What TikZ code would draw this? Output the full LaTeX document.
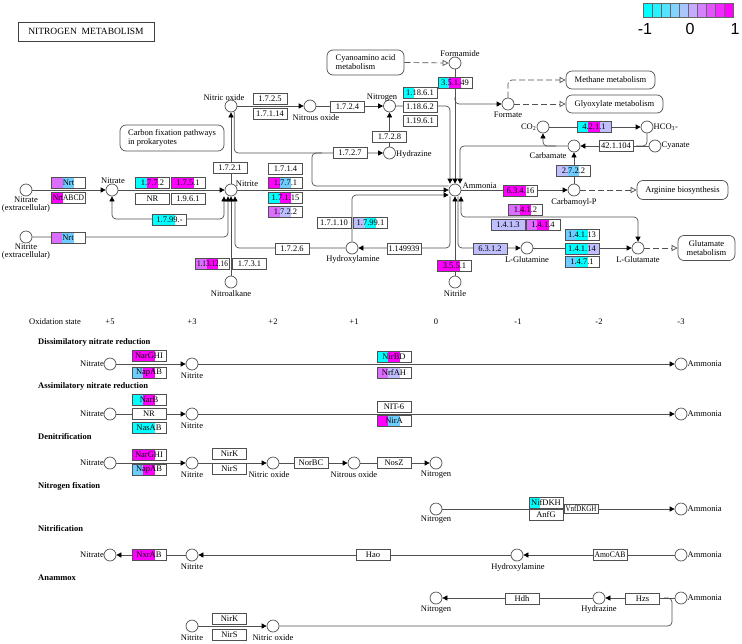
\documentclass[tikz,border=0pt]{standalone}
\usepackage{fontspec}
\usepackage{graphicx}
\setmainfont{Liberation Serif}
\newfontfamily\legfont{Liberation Sans}
\usetikzlibrary{arrows.meta,calc}
\pgfdeclarelayer{bg}
\pgfsetlayers{bg,main}
\definecolor{kc}{RGB}{0,255,255}
\definecolor{km}{RGB}{255,0,255}
\definecolor{kl}{RGB}{191,191,255}
\definecolor{kb}{RGB}{110,205,255}
\definecolor{kp}{RGB}{220,110,255}
\definecolor{lnc}{RGB}{80,80,80}
\newsavebox\fbx
\newcommand\fitt[1]{\sbox\fbx{#1}\ifdim\wd\fbx>31pt\resizebox{31pt}{\height}{#1}\else\usebox\fbx\fi}
\begin{document}
\begin{tikzpicture}[x=1pt,y=-1pt,
 cpd/.style={circle,draw=lnc,fill=white,line width=0.7pt,minimum size=12pt,inner sep=0pt},
 lbl/.style={font=\fontsize{8.5}{8.5}\selectfont,inner sep=0pt,align=center},
 hd/.style={font=\fontsize{8.5}{9}\selectfont\bfseries,inner sep=0pt,anchor=west},
 enz/.style={draw=lnc,fill=white,line width=0.7pt,minimum width=34pt,minimum height=11pt,inner sep=0pt,font=\fontsize{8.5}{9}\selectfont},
 ccc/.style n args={3}{path picture={
   \fill[#1] (path picture bounding box.south west) rectangle ++(11.33pt,14pt);
   \fill[#2] ([xshift=11.33pt]path picture bounding box.south west) rectangle ++(11.34pt,14pt);
   \fill[#3] ([xshift=22.67pt]path picture bounding box.south west) rectangle ++(11.34pt,14pt);}},
 pbox/.style={draw=lnc,fill=white,line width=0.7pt,rounded corners=6pt,inner sep=0pt,align=center,font=\fontsize{8.5}{9}\selectfont},
 ln0/.style={draw=lnc,line width=0.7pt},
 arr/.style={ln0,-{Triangle[length=5pt,width=5pt,color=black]}},
 arrb/.style={ln0,{Triangle[length=5pt,width=5pt,color=black]}-{Triangle[length=5pt,width=5pt,color=black]}},
 dsh/.style={ln0,dash pattern=on 6pt off 3pt,-{Triangle[open,length=6pt,width=6pt]}},
 rc/.style={rounded corners=4pt}]
\useasboundingbox (0,0) rectangle (742,643);

% title and legend
\node[draw=black!75,line width=1pt,minimum width=136pt,minimum height=19pt,inner sep=0pt,font=\fontsize{9.5}{10}\selectfont] (title) at (86,31.5) {NITROGEN\ \ METABOLISM};
\foreach \i/\c in {0/kc,1/kl!22!kc,2/kl!44!kc,3/kl!67!kc,4/kl!89!kc,5/km!11!kl,6/km!33!kl,7/km!56!kl,8/km!78!kl,9/km}
  \node[draw=black!60,fill=\c,minimum width=9pt,minimum height=14pt,inner sep=0pt,line width=0.4pt] (leg\i) at ({647.5+9*\i},10) {};
\node[font=\legfont\fontsize{16}{16}\selectfont,inner sep=0pt] (legm) at (645,29) {-1};
\node[font=\legfont\fontsize{16}{16}\selectfont,inner sep=0pt] (legz) at (690,29) {0};
\node[font=\legfont\fontsize{16}{16}\selectfont,inner sep=0pt] (legp) at (735,29) {1};

% pathway boxes
\node[pbox,minimum width=77pt,minimum height=25pt,align=left] (cyano) at (365.5,62.5) {Cyanoamino acid\\metabolism};
\node[pbox,minimum width=104pt,minimum height=26pt,align=left] (carbfix) at (172,138) {Carbon fixation pathways\\in prokaryotes};
\node[pbox,minimum width=89pt,minimum height=18pt] (methane) at (610.5,80) {Methane metabolism};
\node[pbox,minimum width=97pt,minimum height=18pt] (glyox) at (614.5,104) {Glyoxylate metabolism};
\node[pbox,minimum width=91pt,minimum height=19pt] (arginine) at (682.5,190) {Arginine biosynthesis};
\node[pbox,minimum width=57pt,minimum height=25pt] (glumet) at (706.5,248) {Glutamate\\metabolism};

% compounds top
\node[cpd] (formamide) at (455,63) {};
\node[cpd] (no) at (231,106) {};
\node[cpd] (n2o) at (310,106) {};
\node[cpd] (n2) at (389.5,106) {};
\node[cpd] (formate) at (508,104) {};
\node[cpd] (co2) at (543,127) {};
\node[cpd] (hco3) at (647,127) {};
\node[cpd] (carbamate) at (574,146) {};
\node[cpd] (cyanate) at (655,146) {};
\node[cpd] (hydrazine) at (389.5,153) {};
\node[cpd] (nitrite) at (231,190) {};
\node[cpd] (nitrateE) at (26,190) {};
\node[cpd] (nitrate) at (112,190) {};
\node[cpd] (ammonia) at (455,190) {};
\node[cpd] (carbp) at (574,190) {};
\node[cpd] (nitriteE) at (26,237) {};
\node[cpd] (hydroxyl) at (352,248) {};
\node[cpd] (lgln) at (527,248) {};
\node[cpd] (lglu) at (638,248) {};
\node[cpd] (nitroalk) at (231,282) {};
\node[cpd] (nitrile) at (455,282) {};

% labels top
\node[lbl] (lformamide) at (460,54) {Formamide};
\node[lbl] (lno) at (224,97.5) {Nitric oxide};
\node[lbl] (ln2o) at (316,118) {Nitrous oxide};
\node[lbl] (ln2) at (382,97.5) {Nitrogen};
\node[lbl] (lformate) at (508,114.5) {Formate};
\node[lbl,anchor=east] (lco2) at (536.5,127) {CO\textsubscript{2}};
\node[lbl,anchor=west] (lhco3) at (653.5,127) {HCO\textsubscript{3}-};
\node[lbl] (lcarbamate) at (548,155.5) {Carbamate};
\node[lbl,anchor=west] (lcyanate) at (661.5,146) {Cyanate};
\node[lbl,anchor=west] (lhydrazine) at (396,154.5) {Hydrazine};
\node[lbl] (lnitrite) at (247,184) {Nitrite};
\node[lbl] (lnitrate) at (113,181) {Nitrate};
\node[lbl] (lnitrateE) at (26,204.5) {Nitrate\\(extracellular)};
\node[lbl] (lnitriteE) at (26,251.5) {Nitrite\\(extracellular)};
\node[lbl,anchor=south west] (lammonia) at (462.5,188.5) {Ammonia};
\node[lbl] (lcarbp) at (574,202.5) {Carbamoyl-P};
\node[lbl] (lhydroxyl) at (353,259.5) {Hydroxylamine};
\node[lbl] (llgln) at (527,259.5) {L-Glutamine};
\node[lbl] (llglu) at (638,259.5) {L-Glutamate};
\node[lbl] (lnitroalk) at (231,293.5) {Nitroalkane};
\node[lbl] (lnitrile) at (455,293.5) {Nitrile};

% enzymes top
\node[enz] (e17225) at (270,98.5) {\fitt{1.7.2.5}};
\node[enz] (e17114) at (270,113.5) {\fitt{1.7.1.14}};
\node[enz] (e1724) at (347.5,106.5) {\fitt{1.7.2.4}};
\node[enz,ccc={kc}{white}{white}] (e118661) at (420,92.5) {\fitt{1.18.6.1}};
\node[enz] (e118662) at (420,106.5) {\fitt{1.18.6.2}};
\node[enz] (e11961) at (420,120.5) {\fitt{1.19.6.1}};
\node[enz] (e1728) at (389.5,136.5) {\fitt{1.7.2.8}};
\node[enz] (e1727) at (350,153) {\fitt{1.7.2.7}};
\node[enz,ccc={kc}{km}{white}] (e35149) at (455,82.5) {\fitt{3.5.1.49}};
\node[enz,ccc={kc}{km}{kl}] (e4211) at (594,127) {\fitt{4.2.1.1}};
\node[enz] (e421104) at (616,146) {\fitt{42.1.104}};
\node[enz] (e1721) at (230,168) {\fitt{1.7.2.1}};
\node[enz,ccc={kp}{kb}{white}] (nrt1) at (68.5,182.5) {\fitt{Nrt}};
\node[enz,ccc={km}{white}{white}] (nrtabcd) at (68.5,197.5) {\fitt{NrtABCD}};
\node[enz,ccc={kc}{km}{white}] (e1772) at (152.5,182.5) {\fitt{1.7.7.2}};
\node[enz,ccc={km}{km}{white}] (e1751) at (188,182.5) {\fitt{1.7.5.1}};
\node[enz] (nr) at (152.5,198.5) {\fitt{NR}};
\node[enz] (e1961) at (188,198.5) {\fitt{1.9.6.1}};
\node[enz,ccc={kc}{kc}{white}] (e1799) at (169.5,219.5) {\fitt{1.7.99.-}};
\node[enz,ccc={kp}{kb}{white}] (nrt2) at (68,237.5) {\fitt{Nrt}};
\node[enz,ccc={kp}{km}{white}] (e1131216) at (212.5,263.5) {\fitt{1.13.12.16}};
\node[enz] (e1731) at (249.5,263.5) {\fitt{1.7.3.1}};
\node[enz] (e1714) at (285.5,168.5) {\fitt{1.7.1.4}};
\node[enz,ccc={km}{kb}{white}] (e1771) at (285.5,182.5) {\fitt{1.7.7.1}};
\node[enz,ccc={kc}{km}{white}] (e17115) at (285.5,197.5) {\fitt{1.7.1.15}};
\node[enz,ccc={kp}{kl}{white}] (e1722) at (285.5,211.5) {\fitt{1.7.2.2}};
\node[enz] (e17110) at (334,223) {\fitt{1.7.1.10}};
\node[enz,ccc={kl}{kc}{white}] (e17991) at (370.5,223) {\fitt{1.7.99.1}};
\node[enz] (e1726) at (292,249) {\fitt{1.7.2.6}};
\node[enz] (e1149939) at (404,249) {\fitt{1.149939}};
\node[enz,ccc={km}{km}{white}] (e3551) at (454.5,265.5) {\fitt{3.5.5.1}};
\node[enz,ccc={km}{km}{white}] (e63416) at (520.5,190.5) {\fitt{6.3.4.16}};
\node[enz,ccc={kl}{kb}{white}] (e2722) at (573.5,171) {\fitt{2.7.2.2}};
\node[enz,ccc={kp}{km}{white}] (e1412) at (525.5,210) {\fitt{1.4.1.2}};
\node[enz,ccc={kl}{kl}{kl}] (e1413) at (508,225) {\fitt{1.4.1.3}};
\node[enz,ccc={kp}{km}{white}] (e1414) at (543,225) {\fitt{1.4.1.4}};
\node[enz,ccc={kl}{kl}{kl}] (e6312) at (490,248.5) {\fitt{6.3.1.2}};
\node[enz,ccc={kb}{kc}{white}] (e14113) at (582,235) {\fitt{1.4.1.13}};
\node[enz,ccc={kc}{kc}{kl}] (e14114) at (582,248.5) {\fitt{1.4.1.14}};
\node[enz,ccc={kb}{kc}{white}] (e1471) at (582,262) {\fitt{1.4.7.1}};

% connectors top
\coordinate (jf) at (455,97);
\coordinate (jcb) at (556,146);
\coordinate (jh) at (636,146);
\begin{pgfonlayer}{bg}
\draw[dsh] (cyano.east) -- (formamide.west);
\draw[dsh,rc] (formate.north) |- (methane.west);
\draw[dsh] (formate.east) -- (glyox.west);
\draw[dsh] (carbp.east) -- (arginine.west);
\draw[dsh] (lglu.east) -- (glumet.west);
\draw[arr] (no.east) -- (n2o.west);
\draw[arr] (n2o.east) -- (n2.west);
\draw[arr,rc] (n2.east) -| ([xshift=-5pt]ammonia.north);
\draw[arr] (formamide.south) -- (ammonia.north);
\draw[arr,rc] (jf) |- (formate.west);
\draw[arr,rc] (no.-60) |- (hydrazine.west);
\draw[ln0,rc] ([yshift=4pt]ammonia.west) -- (312,186) -- (312,153) -- (322,153);
\draw[arr] (hydrazine.north) -- (n2.south);
\draw[arr] (co2.east) -- (hco3.west);
\draw[arr] (cyanate.west) -- (carbamate.east);
\draw[ln0,rc] (jh) -| (hco3.south);
\draw[arr,rc] (carbamate.west) -| ([xshift=5pt]ammonia.north);
\draw[arr,rc] (jcb) -| (co2.south);
\draw[arr] (carbp.north) -- (carbamate.south);
\draw[arr] (ammonia.east) -- (carbp.west);
\draw[arr] (nitrateE.east) -- (nitrate.west);
\draw[arr] (nitrate.east) -- (nitrite.west);
\draw[arr] (nitrite.north) -- (no.south);
\draw[arr] (nitrite.east) -- (ammonia.west);
\draw[arrb,rc] (nitrate.south) -- (112,219) -- (224,219) -- ([xshift=-7pt]nitrite.south);
\draw[arr,rc] (nitriteE.east) -- (228,237) -- ([xshift=-3pt]nitrite.south);
\draw[arr] (nitroalk.north) -- (nitrite.south);
\draw[arr,rc] (hydroxyl.west) -- (235,248) -- ([xshift=4pt]nitrite.south);
\draw[arr,rc] (hydroxyl.north) |- ([yshift=-5pt]ammonia.west);
\draw[arr,rc] ([xshift=-5pt]ammonia.south) |- (hydroxyl.east);
\draw[arr] (nitrile.north) -- (ammonia.south);
\draw[arr,rc] ([xshift=3pt]ammonia.south) |- (lgln.west);
\draw[arrb,rc] ([xshift=6pt]ammonia.south) -- (461,217) -- (638,217) -- (lglu.north);
\draw[arr] (lgln.east) -- (lglu.west);
\end{pgfonlayer}

% ===== lower section =====
\node[lbl] (ox) at (55,322) {Oxidation state};
\node[lbl] (ox5) at (110,322) {+5};
\node[lbl] (ox3) at (192,322) {+3};
\node[lbl] (ox2) at (273,322) {+2};
\node[lbl] (ox1) at (354,322) {+1};
\node[lbl] (ox0) at (436,322) {0};
\node[lbl] (oxm1) at (518,322) {-1};
\node[lbl] (oxm2) at (599,322) {-2};
\node[lbl] (oxm3) at (681,322) {-3};

\node[hd] (h1) at (38,342) {Dissimilatory nitrate reduction};
\node[hd] (h2) at (38,386) {Assimilatory nitrate reduction};
\node[hd] (h3) at (38,437) {Denitrification};
\node[hd] (h4) at (38,486) {Nitrogen fixation};
\node[hd] (h5) at (38,529) {Nitrification};
\node[hd] (h6) at (38,578) {Anammox};

% row 1
\node[cpd] (r1a) at (110,364) {};
\node[cpd] (r1b) at (192,364) {};
\node[cpd] (r1c) at (681,364) {};
\node[lbl,anchor=east] (l1a) at (104,364) {Nitrate};
\node[lbl] (l1b) at (192,375.5) {Nitrite};
\node[lbl,anchor=west] (l1c) at (687.5,364) {Ammonia};
\node[enz,ccc={km}{km}{white}] (r1e1) at (149,356) {\fitt{NarGHI}};
\node[enz,ccc={kb}{km}{white}] (r1e2) at (149,372.5) {\fitt{NapAB}};
\node[enz,ccc={kc}{km}{white}] (r1e3) at (394,356.5) {\fitt{NirBD}};
\node[enz,ccc={kp}{kl}{white}] (r1e4) at (394,373) {\fitt{NrfAH}};
% row 2
\node[cpd] (r2a) at (110,414) {};
\node[cpd] (r2b) at (192,414) {};
\node[cpd] (r2c) at (681,414) {};
\node[lbl,anchor=east] (l2a) at (104,414) {Nitrate};
\node[lbl] (l2b) at (192,425.5) {Nitrite};
\node[lbl,anchor=west] (l2c) at (687.5,414) {Ammonia};
\node[enz,ccc={kc}{km}{white}] (r2e1) at (149,400) {\fitt{NarB}};
\node[enz] (r2e2) at (149,413.5) {\fitt{NR}};
\node[enz,ccc={kc}{kc}{white}] (r2e3) at (149,427.5) {\fitt{NasAB}};
\node[enz] (r2e4) at (394,407) {\fitt{NIT-6}};
\node[enz,ccc={km}{kb}{white}] (r2e5) at (394,421) {\fitt{NirA}};
% row 3
\node[cpd] (r3a) at (110,463) {};
\node[cpd] (r3b) at (192,463) {};
\node[cpd] (r3c) at (273,463) {};
\node[cpd] (r3d) at (354,463) {};
\node[cpd] (r3e) at (436,463) {};
\node[lbl,anchor=east] (l3a) at (104,463) {Nitrate};
\node[lbl] (l3b) at (192,474.5) {Nitrite};
\node[lbl] (l3c) at (269,474.5) {Nitric oxide};
\node[lbl] (l3d) at (354,474.5) {Nitrous oxide};
\node[lbl] (l3e) at (436,474.5) {Nitrogen};
\node[enz,ccc={km}{km}{white}] (r3e1) at (149,454.5) {\fitt{NarGHI}};
\node[enz,ccc={kb}{km}{white}] (r3e2) at (149,470) {\fitt{NapAB}};
\node[enz] (r3e3) at (229.5,454) {\fitt{NirK}};
\node[enz] (r3e4) at (229.5,469) {\fitt{NirS}};
\node[enz] (r3e5) at (311,463) {\fitt{NorBC}};
\node[enz] (r3e6) at (394,463) {\fitt{NosZ}};
% row 4
\node[cpd] (r4a) at (436,509) {};
\node[cpd] (r4b) at (681,509) {};
\node[lbl] (l4a) at (436,520) {Nitrogen};
\node[lbl,anchor=west] (l4b) at (687.5,509) {Ammonia};
\node[enz,ccc={kc}{white}{white}] (r4e1) at (546,502.5) {\fitt{NifDKH}};
\node[enz] (r4e2) at (546,514.5) {\fitt{AnfG}};
\node[enz,minimum height=9pt] (r4e3) at (581,508.5) {\fitt{VnfDKGH}};
% row 5
\node[cpd] (r5a) at (110,555) {};
\node[cpd] (r5b) at (192,555) {};
\node[cpd] (r5c) at (517,555) {};
\node[cpd] (r5d) at (681,555) {};
\node[lbl,anchor=east] (l5a) at (104,555) {Nitrate};
\node[lbl] (l5b) at (192,566.5) {Nitrite};
\node[lbl] (l5c) at (518,567) {Hydroxylamine};
\node[lbl,anchor=west] (l5d) at (687.5,555) {Ammonia};
\node[enz,ccc={km}{km}{white}] (r5e1) at (149,555) {\fitt{NxrAB}};
\node[enz] (r5e2) at (373,555) {\fitt{Hao}};
\node[enz] (r5e3) at (610,554.5) {\fitt{AmoCAB}};
% row 6
\node[cpd] (r6a) at (436,598) {};
\node[cpd] (r6b) at (599,598) {};
\node[cpd] (r6c) at (681,598) {};
\node[lbl] (l6a) at (436,609.5) {Nitrogen};
\node[lbl] (l6b) at (599,609.5) {Hydrazine};
\node[lbl,anchor=west] (l6c) at (687.5,598) {Ammonia};
\node[enz] (r6e1) at (522,599) {\fitt{Hdh}};
\node[enz] (r6e2) at (642.5,599) {\fitt{Hzs}};
% row 7
\node[cpd] (r7a) at (192,626) {};
\node[cpd] (r7b) at (273,626) {};
\node[lbl] (l7a) at (192,637.5) {Nitrite};
\node[lbl] (l7b) at (273,637.5) {Nitric oxide};
\node[enz] (r7e1) at (229.5,619) {\fitt{NirK}};
\node[enz] (r7e2) at (229.5,635) {\fitt{NirS}};

\coordinate (jA) at (664,598);
\begin{pgfonlayer}{bg}
\draw[arr] (r1a.east) -- (r1b.west);
\draw[arr] (r1b.east) -- (r1c.west);
\draw[arr] (r2a.east) -- (r2b.west);
\draw[arr] (r2b.east) -- (r2c.west);
\draw[arr] (r3a.east) -- (r3b.west);
\draw[arr] (r3b.east) -- (r3c.west);
\draw[arr] (r3c.east) -- (r3d.west);
\draw[arr] (r3d.east) -- (r3e.west);
\draw[arr] (r4a.east) -- (r4b.west);
\draw[arr] (r5d.west) -- (r5c.east);
\draw[arr] (r5c.west) -- (r5b.east);
\draw[arr] (r5b.west) -- (r5a.east);
\draw[arr] (r6c.west) -- (r6b.east);
\draw[arr] (r6b.west) -- (r6a.east);
\draw[arr] (r7a.east) -- (r7b.west);
\draw[ln0,rc] (r7b.east) -- (672,626) -- (672,598) -- (jA);
\end{pgfonlayer}
\end{tikzpicture}
\end{document}
